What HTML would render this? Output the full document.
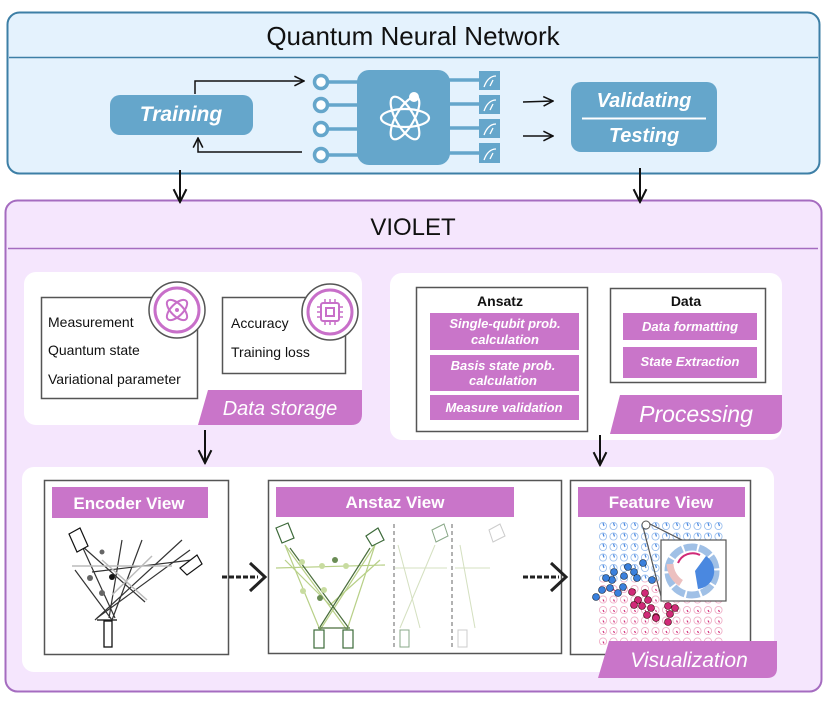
<!DOCTYPE html>
<html><head><meta charset="utf-8"><style>
body{margin:0;background:#fff;}
svg{display:block;font-family:"Liberation Sans",sans-serif;}
</style></head><body>
<svg width="830" height="701" viewBox="0 0 830 701" xmlns="http://www.w3.org/2000/svg">
<defs>
<marker id="ah" viewBox="0 0 10 10" refX="9" refY="5" markerWidth="8" markerHeight="8" orient="auto-start-reverse"><path d="M1,1 L9,5 L1,9" fill="none" stroke="#111" stroke-width="1.3"/></marker>
<pattern id="grid" x="598" y="521" width="10.5" height="10.5" patternUnits="userSpaceOnUse"><circle cx="5" cy="5" r="3.6" fill="none" stroke="#9cc0ee" stroke-width="0.9"/><path d="M5,2 L6,5" stroke="#4a88e0" stroke-width="1.2"/></pattern>
<pattern id="gridp" x="598" y="521" width="10.5" height="10.5" patternUnits="userSpaceOnUse"><circle cx="5" cy="5" r="3.6" fill="none" stroke="#f0b0c8" stroke-width="0.9"/><path d="M5,5 L6,7" stroke="#d0307a" stroke-width="1.2"/></pattern>
</defs>

<!-- QNN -->
<rect x="7.5" y="12.5" width="812" height="161" rx="12" fill="#e4f2fd" stroke="#3d7fa6" stroke-width="2"/>
<text x="413" y="45" text-anchor="middle" font-size="26" fill="#111">Quantum Neural Network</text>
<line x1="9" y1="57.5" x2="818" y2="57.5" stroke="#3d7fa6" stroke-width="1.5"/>
<rect x="110" y="95" width="143" height="40" rx="10" fill="#65a6cb"/>
<text x="181" y="121" text-anchor="middle" font-size="21" font-weight="bold" font-style="italic" fill="#fff">Training</text>
<polyline points="195,94 195,81 304,81" fill="none" stroke="#111" stroke-width="1.5" marker-end="url(#ah)"/>
<polyline points="302,152 198,152 198,138" fill="none" stroke="#111" stroke-width="1.5" marker-end="url(#ah)"/>
<g stroke="#65a6cb" stroke-width="3.5">
<line x1="328" y1="82" x2="358" y2="82"/><line x1="328" y1="105" x2="358" y2="105"/><line x1="328" y1="129" x2="358" y2="129"/><line x1="328" y1="155" x2="358" y2="155"/>
<line x1="449" y1="80" x2="480" y2="80"/><line x1="449" y1="104" x2="480" y2="104"/><line x1="449" y1="128" x2="480" y2="128"/><line x1="449" y1="153" x2="480" y2="153"/>
</g>
<g fill="#fff" stroke="#65a6cb" stroke-width="3.5">
<circle cx="321" cy="82" r="6.5"/><circle cx="321" cy="105" r="6.5"/><circle cx="321" cy="129" r="6.5"/><circle cx="321" cy="155" r="6.5"/>
</g>
<rect x="357" y="70" width="93" height="95" rx="12" fill="#65a6cb"/>
<g fill="none" stroke="#fff" stroke-width="2.2">
<ellipse cx="405" cy="118" rx="24" ry="9"/>
<ellipse cx="405" cy="118" rx="24" ry="9" transform="rotate(60 405 118)"/>
<ellipse cx="405" cy="118" rx="24" ry="9" transform="rotate(-60 405 118)"/>
</g>
<circle cx="414" cy="97" r="5" fill="#fff"/>
<g fill="#65a6cb"><rect x="479" y="71" width="21" height="19"/><rect x="479" y="95" width="21" height="19"/><rect x="479" y="119" width="21" height="19"/><rect x="479" y="143" width="21" height="20"/></g>
<g fill="none" stroke="#fff" stroke-width="1.3">
<path d="M484,87 Q488,76 496,76 M490,86 L493,80"/>
<path d="M484,111 Q488,100 496,100 M490,110 L493,104"/>
<path d="M484,135 Q488,124 496,124 M490,134 L493,128"/>
<path d="M484,160 Q488,149 496,149 M490,159 L493,153"/>
</g>
<line x1="523" y1="102" x2="553" y2="101" stroke="#111" stroke-width="1.5" marker-end="url(#ah)"/>
<line x1="523" y1="136" x2="553" y2="136" stroke="#111" stroke-width="1.5" marker-end="url(#ah)"/>
<rect x="571" y="82" width="146" height="70" rx="10" fill="#65a6cb"/>
<text x="644" y="107" text-anchor="middle" font-size="20" font-weight="bold" font-style="italic" fill="#fff">Validating</text>
<line x1="582" y1="118.5" x2="706" y2="118.5" stroke="#fff" stroke-width="2"/>
<text x="644" y="142" text-anchor="middle" font-size="20" font-weight="bold" font-style="italic" fill="#fff">Testing</text>

<!-- VIOLET -->
<rect x="5.5" y="200.5" width="816" height="491" rx="12" fill="#f5e6fd" stroke="#a56cc0" stroke-width="2"/>
<text x="413" y="235" text-anchor="middle" font-size="24" fill="#111">VIOLET</text>
<line x1="8" y1="248.5" x2="818" y2="248.5" stroke="#a56cc0" stroke-width="1.5"/>
<line x1="180" y1="170" x2="180" y2="202" stroke="#111" stroke-width="2" marker-end="url(#ah)"/>
<line x1="640" y1="168" x2="640" y2="202" stroke="#111" stroke-width="2" marker-end="url(#ah)"/>

<!-- Data storage -->
<rect x="24" y="272" width="338" height="153" rx="12" fill="#fff"/>
<rect x="41.5" y="297.5" width="156" height="101" fill="#fff" stroke="#555" stroke-width="1.5"/>
<rect x="222.5" y="297.5" width="123" height="76" fill="#fff" stroke="#555" stroke-width="1.5"/>
<circle cx="177" cy="310" r="28" fill="#fff" stroke="#555" stroke-width="1.5"/>
<circle cx="177" cy="310" r="22" fill="#fff" stroke="#c86fc9" stroke-width="3"/>
<g fill="none" stroke="#c86fc9" stroke-width="2"><ellipse cx="177" cy="310" rx="13" ry="6" transform="rotate(45 177 310)"/><ellipse cx="177" cy="310" rx="13" ry="6" transform="rotate(-45 177 310)"/></g>
<circle cx="177" cy="310" r="2" fill="#c86fc9"/>
<circle cx="330" cy="312" r="28" fill="#fff" stroke="#555" stroke-width="1.5"/>
<circle cx="330" cy="312" r="22" fill="#fff" stroke="#c86fc9" stroke-width="3"/>
<rect x="321" y="303" width="18" height="18" rx="2" fill="none" stroke="#c86fc9" stroke-width="2"/>
<rect x="326" y="308" width="8" height="8" fill="none" stroke="#c86fc9" stroke-width="2"/>
<g stroke="#c86fc9" stroke-width="1.5"><path d="M325,299v4M330,299v4M335,299v4M325,321v4M330,321v4M335,321v4M317,307h4M317,312h4M317,317h4M339,307h4M339,312h4M339,317h4"/></g>
<g font-size="14" fill="#111">
<text x="48" y="327">Measurement</text><text x="48" y="355">Quantum state</text><text x="48" y="384">Variational parameter</text>
<text x="231" y="328">Accuracy</text><text x="231" y="357">Training loss</text>
</g>
<path d="M208,390 L362,390 L362,414 Q362,425 351,425 L198,425 Z" fill="#c975c9"/>
<text x="280" y="415" text-anchor="middle" font-size="20" font-style="italic" fill="#fff">Data storage</text>

<!-- Processing -->
<rect x="390" y="273" width="392" height="167" rx="12" fill="#fff"/>
<rect x="416.5" y="287.5" width="171" height="144" fill="#fff" stroke="#555" stroke-width="1.5"/>
<rect x="610.5" y="288.5" width="155" height="94" fill="#fff" stroke="#555" stroke-width="1.5"/>
<text x="500" y="306" text-anchor="middle" font-size="14" font-weight="bold" fill="#111">Ansatz</text>
<text x="686" y="306" text-anchor="middle" font-size="14" font-weight="bold" fill="#111">Data</text>
<g fill="#c975c9"><rect x="430" y="313" width="149" height="37"/><rect x="430" y="355" width="149" height="36"/><rect x="430" y="395" width="149" height="25"/><rect x="623" y="313" width="134" height="27"/><rect x="623" y="347" width="134" height="31"/></g>
<g font-size="13" font-weight="bold" font-style="italic" fill="#fff" text-anchor="middle">
<text x="505" y="328">Single-qubit prob.</text><text x="505" y="344">calculation</text>
<text x="503" y="370">Basis state prob.</text><text x="503" y="385">calculation</text>
<text x="504" y="412">Measure validation</text>
<text x="690" y="331">Data formatting</text><text x="690" y="366">State Extraction</text>
</g>
<path d="M620,395 L782,395 L782,424 Q782,434 772,434 L610,434 Z" fill="#c975c9"/>
<text x="696" y="422" text-anchor="middle" font-size="23" font-style="italic" fill="#fff">Processing</text>
<line x1="205" y1="430" x2="205" y2="463" stroke="#111" stroke-width="2" marker-end="url(#ah)"/>
<line x1="600" y1="435" x2="600" y2="465" stroke="#111" stroke-width="2" marker-end="url(#ah)"/>

<!-- Visualization -->
<rect x="22" y="467" width="752" height="205" rx="12" fill="#fff"/>
<g fill="#fff" stroke="#555" stroke-width="1.5"><rect x="44.5" y="480.5" width="184" height="174"/><rect x="268.5" y="480.5" width="293" height="173"/><rect x="570.5" y="480.5" width="180" height="174"/></g>
<g fill="#c975c9"><rect x="52" y="487" width="156" height="31"/><rect x="276" y="487" width="238" height="30"/><rect x="578" y="487" width="167" height="30"/></g>
<g font-size="17" font-weight="bold" fill="#fff" text-anchor="middle"><text x="129" y="509">Encoder View</text><text x="395" y="508">Anstaz View</text><text x="661" y="508">Feature View</text></g>
<!-- encoder drawing -->
<g transform="translate(22,0)">
<g stroke="#333" stroke-width="1.2" fill="none">
<line x1="60" y1="546" x2="93" y2="618"/><line x1="60" y1="546" x2="123" y2="602"/><line x1="100" y1="540" x2="87" y2="618"/>
<line x1="120" y1="540" x2="90" y2="620"/><line x1="160" y1="540" x2="73" y2="620"/><line x1="170" y1="560" x2="70" y2="572"/>
<line x1="53" y1="570" x2="90" y2="620"/><line x1="168" y1="550" x2="75" y2="618"/>
<line x1="75" y1="620" x2="95" y2="620" stroke-width="1.5"/>
</g>
<g stroke="#bbb" stroke-width="1.5" fill="none"><line x1="50" y1="566" x2="150" y2="566"/><line x1="80" y1="560" x2="125" y2="600"/><line x1="130" y1="556" x2="90" y2="595"/></g>
<polygon points="47,534 58,528 66,546 55,552" fill="#fff" stroke="#111" stroke-width="1.2"/>
<polygon points="158,568 175,555 180,564 165,575" fill="#fff" stroke="#111" stroke-width="1.2"/>
<rect x="82" y="621" width="8" height="26" fill="#fff" stroke="#111" stroke-width="1.3"/>
<g fill="#666"><circle cx="80" cy="552" r="2.5"/><circle cx="68" cy="578" r="3"/><circle cx="80" cy="593" r="3"/></g><circle cx="90" cy="577" r="3" fill="#111"/>
</g>
<!-- dashed arrows -->
<g stroke="#222" stroke-width="3" fill="none">
<line x1="222" y1="577" x2="258" y2="577" stroke-dasharray="5,2"/><path d="M250,563 L265,577 L250,591"/>
<line x1="523" y1="577" x2="559" y2="577" stroke-dasharray="5,2"/><path d="M551,563 L566,577 L551,591"/>
</g>
<!-- ansatz drawing -->
<g stroke="#b8d088" stroke-width="1.2" fill="none">
<line x1="285" y1="545" x2="320" y2="630"/><line x1="285" y1="545" x2="347" y2="630"/><line x1="375" y1="545" x2="320" y2="630"/><line x1="375" y1="545" x2="347" y2="630"/>
<line x1="276" y1="568" x2="385" y2="565"/><line x1="285" y1="560" x2="330" y2="605"/><line x1="380" y1="560" x2="330" y2="605"/>
</g>
<g stroke="#4a6e3c" stroke-width="1.2" fill="none"><line x1="290" y1="548" x2="348" y2="627"/><line x1="370" y1="548" x2="320" y2="627"/><line x1="318" y1="628" x2="350" y2="628"/></g>
<g fill="#c8dca0"><circle cx="302" cy="562" r="3"/><circle cx="322" cy="566" r="3"/><circle cx="346" cy="566" r="3"/><circle cx="303" cy="591" r="3"/><circle cx="324" cy="590" r="3"/></g>
<g fill="#6a8c55"><circle cx="335" cy="560" r="3"/><circle cx="320" cy="598" r="3"/></g>
<g fill="#fff" stroke="#3d6a3a" stroke-width="1.2"><polygon points="276,528 288,523 294,538 282,543"/><polygon points="366,536 378,528 384,540 372,546"/><rect x="314" y="630" width="10" height="18"/><rect x="343" y="630" width="10" height="18"/></g>
<g fill="none" stroke="#d4e0c0" stroke-width="1"><line x1="398" y1="545" x2="420" y2="628"/><line x1="435" y1="545" x2="400" y2="628"/><line x1="395" y1="568" x2="447" y2="568"/><line x1="460" y1="545" x2="475" y2="628"/><line x1="455" y1="568" x2="490" y2="568"/></g>
<g fill="#fff" stroke="#8aa888" stroke-width="1"><polygon points="432,530 444,524 448,536 436,542"/><rect x="400" y="630" width="9" height="17"/></g>
<g fill="#fff" stroke="#ccc" stroke-width="1"><polygon points="489,530 500,524 505,536 493,542"/><rect x="458" y="630" width="9" height="17"/></g>
<g stroke="#666" stroke-dasharray="4,3"><line x1="394" y1="524" x2="394" y2="648"/><line x1="452" y1="524" x2="452" y2="648"/></g>
<!-- feature -->
<rect x="598" y="521" width="63" height="60" fill="url(#grid)"/>
<rect x="661" y="521" width="64" height="20" fill="url(#grid)"/>
<rect x="598" y="581" width="127" height="64" fill="url(#gridp)"/>
<polyline points="648,523 684,541 725,541" fill="none" stroke="#555" stroke-width="1.2"/>
<line x1="643" y1="527" x2="662" y2="600" stroke="#555" stroke-width="1.2"/>
<circle cx="646" cy="525" r="4" fill="#fff" stroke="#555"/>
<g fill="#3a80dc" stroke="#123" stroke-width="0.6">
<circle cx="596" cy="597" r="3.5"/><circle cx="602" cy="590" r="3.5"/><circle cx="610" cy="588" r="3.5"/><circle cx="612" cy="580" r="3.5"/><circle cx="614" cy="572" r="3.5"/><circle cx="624" cy="576" r="3.5"/><circle cx="628" cy="567" r="3.5"/><circle cx="634" cy="572" r="3.5"/><circle cx="623" cy="587" r="3.5"/><circle cx="618" cy="593" r="3.5"/><circle cx="637" cy="578" r="3.5"/><circle cx="643" cy="563" r="3.5"/><circle cx="606" cy="578" r="3.5"/><circle cx="652" cy="580" r="3.5"/>
</g>
<g fill="#d02a78" stroke="#300" stroke-width="0.6">
<circle cx="632" cy="592" r="3.5"/><circle cx="638" cy="600" r="3.5"/><circle cx="634" cy="605" r="3.5"/><circle cx="645" cy="593" r="3.5"/><circle cx="648" cy="600" r="3.5"/><circle cx="642" cy="606" r="3.5"/><circle cx="651" cy="608" r="3.5"/><circle cx="647" cy="615" r="3.5"/><circle cx="656" cy="617" r="3.5"/><circle cx="668" cy="606" r="3.5"/><circle cx="675" cy="608" r="3.5"/><circle cx="670" cy="614" r="3.5"/><circle cx="656" cy="618" r="3.5"/><circle cx="668" cy="622" r="3.5"/>
</g>
<rect x="661" y="540" width="65" height="61" fill="#fff" stroke="#555" stroke-width="1.2"/>
<circle cx="692" cy="571" r="24" fill="none" stroke="#a0c0e6" stroke-width="7" stroke-dasharray="13,2"/>
<path d="M681,583 A24,24 0 0,1 670,564" fill="none" stroke="#ecc0c0" stroke-width="7"/>
<path d="M695,571 L706,556 A18,18 0 0,1 698,589 Z" fill="#4a88e0"/>
<path d="M678,563 A16,16 0 0,1 700,555" fill="none" stroke="#d02a78" stroke-width="2"/>
<path d="M609,641 L777,641 L777,668 Q777,678 767,678 L598,678 Z" fill="#c975c9"/>
<text x="689" y="667" text-anchor="middle" font-size="21" font-style="italic" fill="#fff">Visualization</text>
</svg>
</body></html>
